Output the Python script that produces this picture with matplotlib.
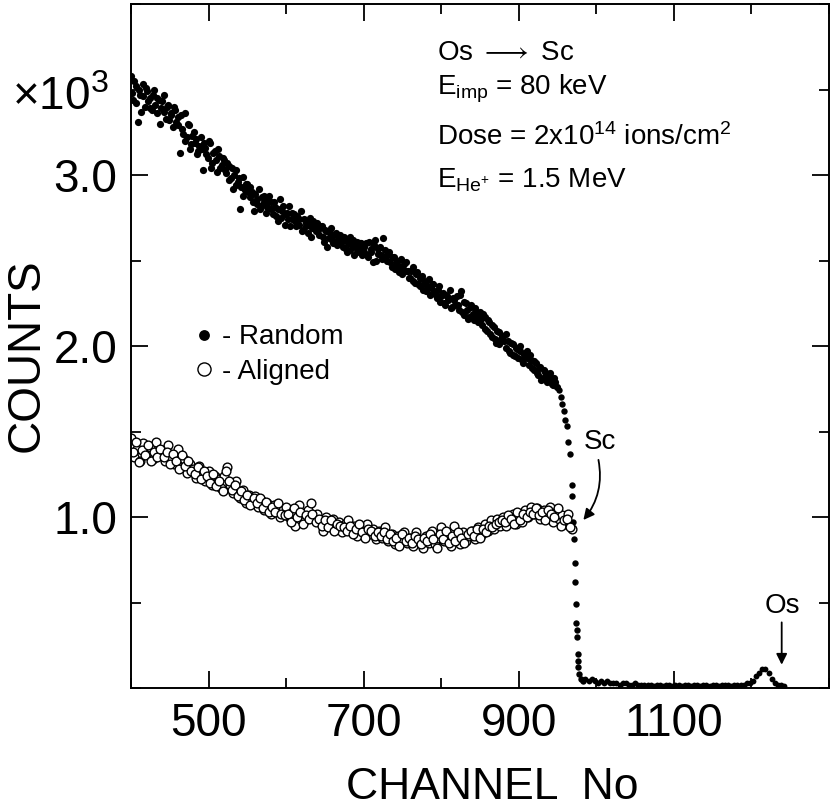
import numpy as np
import matplotlib
matplotlib.use("Agg")
import matplotlib.pyplot as plt
from matplotlib import font_manager
from matplotlib.ticker import MultipleLocator, FormatStrFormatter

# font: condensed sans if there is one
names = {f.name for f in font_manager.fontManager.ttflist}
if "Liberation Sans Narrow" in names:
    FONT = ["Liberation Sans Narrow", "DejaVu Sans"]
    big = 38
else:
    FONT = ["Liberation Sans", "DejaVu Sans"]
    big = 33
plt.rcParams["font.family"] = FONT
plt.rcParams["mathtext.fontset"] = "custom"
plt.rcParams["mathtext.rm"] = FONT[0]
plt.rcParams["mathtext.it"] = FONT[0]

# ---- data (counts x 10^3) ----
# random spectrum, two interleaved sets of channels
random_ch_a = np.arange(400, 950, 3)
random_counts_a = [
    3.58, 3.44, 3.52, 3.31, 3.47, 3.53, 3.40, 3.49, 3.45, 3.38,
    3.50, 3.36, 3.44, 3.39, 3.47, 3.33, 3.41, 3.35, 3.28, 3.38,
    3.34, 3.13, 3.27, 3.36, 3.22, 3.29, 3.18, 3.25, 3.21, 3.14,
    3.22, 3.03, 3.16, 3.10, 3.19, 3.07, 3.14, 3.02, 3.11, 3.06,
    3.09, 3.01, 3.05, 2.98, 2.92, 3.03, 2.96, 2.80, 2.99, 2.91,
    2.95, 2.87, 2.90, 2.79, 2.86, 2.92, 2.82, 2.88, 2.78, 2.85,
    2.84, 2.77, 2.81, 2.73, 2.86, 2.79, 2.71, 2.78, 2.82, 2.74,
    2.77, 2.70, 2.74, 2.79, 2.68, 2.72, 2.66, 2.75, 2.69, 2.71,
    2.72, 2.65, 2.70, 2.61, 2.67, 2.63, 2.69, 2.60, 2.66, 2.62,
    2.65, 2.58, 2.62, 2.55, 2.64, 2.59, 2.53, 2.61, 2.57, 2.60,
    2.55, 2.60, 2.52, 2.57, 2.49, 2.62, 2.54, 2.58, 2.51, 2.56,
    2.50, 2.55, 2.46, 2.52, 2.48, 2.43, 2.51, 2.45, 2.49, 2.44,
    2.40, 2.46, 2.37, 2.43, 2.35, 2.41, 2.38, 2.32, 2.39, 2.34,
    2.36, 2.30, 2.33, 2.26, 2.31, 2.24, 2.29, 2.33, 2.23, 2.27,
    2.29, 2.21, 2.32, 2.18, 2.25, 2.16, 2.23, 2.19, 2.22, 2.14,
    2.20, 2.12, 2.17, 2.09, 2.14, 2.05, 2.11, 2.02, 2.08, 2.04,
    2.06, 1.99, 2.03, 1.96, 2.01, 1.94, 1.98, 2.00, 1.92, 1.95,
    1.97, 1.89, 1.92, 1.86, 1.90, 1.83, 1.88, 1.81, 1.85, 1.79,
    1.84, 1.78, 1.81, 1.76,
]
random_ch_b = np.arange(401, 950, 3)
random_counts_b = [
    3.48, 3.55, 3.42, 3.50, 3.37, 3.46, 3.51, 3.43, 3.39, 3.47,
    3.41, 3.45, 3.30, 3.43, 3.37, 3.40, 3.32, 3.36, 3.40, 3.31,
    3.29, 3.35, 3.24, 3.20, 3.30, 3.15, 3.23, 3.19, 3.12, 3.17,
    3.15, 3.19, 3.12, 3.20, 3.04, 3.13, 3.09, 3.15, 3.04, 3.10,
    3.03, 3.07, 2.97, 3.04, 3.00, 2.94, 2.98, 2.93, 2.88, 2.95,
    2.90, 2.93, 2.84, 2.89, 2.83, 2.80, 2.87, 2.84, 2.81, 2.88,
    2.80, 2.84, 2.76, 2.80, 2.75, 2.82, 2.77, 2.74, 2.70, 2.78,
    2.73, 2.76, 2.71, 2.67, 2.74, 2.70, 2.72, 2.64, 2.73, 2.67,
    2.68, 2.70, 2.64, 2.68, 2.58, 2.66, 2.62, 2.65, 2.59, 2.64,
    2.61, 2.64, 2.57, 2.60, 2.56, 2.62, 2.58, 2.55, 2.60, 2.53,
    2.58, 2.53, 2.61, 2.55, 2.59, 2.50, 2.57, 2.53, 2.63, 2.52,
    2.54, 2.49, 2.52, 2.45, 2.50, 2.47, 2.42, 2.48, 2.44, 2.40,
    2.44, 2.38, 2.42, 2.36, 2.40, 2.33, 2.37, 2.35, 2.30, 2.36,
    2.32, 2.28, 2.35, 2.29, 2.25, 2.30, 2.27, 2.22, 2.28, 2.24,
    2.24, 2.30, 2.20, 2.26, 2.21, 2.17, 2.24, 2.15, 2.20, 2.17,
    2.16, 2.19, 2.10, 2.15, 2.07, 2.12, 2.04, 2.09, 2.01, 2.06,
    2.03, 2.07, 1.97, 2.02, 1.95, 1.99, 1.93, 1.97, 1.90, 1.96,
    1.93, 1.95, 1.87, 1.91, 1.84, 1.87, 1.80, 1.86, 1.82, 1.80,
    1.81, 1.77, 1.79,
]

# Sc surface edge
edge_ch = [952, 954, 956, 958, 960, 962, 964, 966, 968, 969, 970, 971,
           972, 973, 974, 974, 975, 975, 976, 976, 977, 978, 980, 983]
edge_counts = [1.74, 1.70, 1.66, 1.62, 1.57, 1.53, 1.44, 1.37, 1.19, 1.12, 0.97, 0.87,
               0.73, 0.62, 0.49, 0.38, 0.34, 0.30, 0.20, 0.16, 0.12, 0.08, 0.05, 0.04]

# background + Os peak, every 4th channel from 986 to 1242
tail_ch = np.arange(986, 1243, 4)
tail_counts = [
    0.05, 0.04, 0.05, 0.04, 0.03, 0.04, 0.03, 0.04, 0.03, 0.03,
    0.03, 0.02, 0.03, 0.03, 0.02, 0.02, 0.03, 0.02, 0.02, 0.02,
    0.02, 0.02, 0.01, 0.02, 0.02, 0.01, 0.02, 0.02, 0.01, 0.02,
    0.02, 0.01, 0.02, 0.02, 0.01, 0.02, 0.02, 0.01, 0.02, 0.02,
    0.01, 0.02, 0.02, 0.01, 0.02, 0.02, 0.02, 0.01, 0.02, 0.02,
    0.02, 0.02, 0.03,
    0.03, 0.04, 0.07, 0.09, 0.11, 0.11, 0.09, 0.05, 0.03, 0.02, 0.02, 0.01,
]

# aligned spectrum, two interleaved sets
aligned_ch_a = np.arange(400, 969, 4)
aligned_counts_a = [
    1.46, 1.35, 1.40, 1.33, 1.43, 1.37, 1.41, 1.34, 1.44, 1.36,
    1.39, 1.33, 1.42, 1.35, 1.31, 1.40, 1.29, 1.34, 1.26, 1.31,
    1.28, 1.23, 1.30, 1.25, 1.21, 1.27, 1.19, 1.24, 1.22, 1.17,
    1.24, 1.29, 1.19, 1.14, 1.21, 1.11, 1.16, 1.08, 1.13, 1.10,
    1.12, 1.06, 1.10, 1.04, 1.08, 1.02, 1.07, 1.05, 1.00, 1.04,
    1.06, 1.00, 1.03, 0.95, 1.07, 1.01, 0.98, 1.04, 1.08, 0.99,
    1.02, 0.97, 0.92, 1.00, 0.95, 0.99, 0.93, 0.97, 0.91, 0.96,
    0.98, 0.92, 0.95, 0.89, 0.94, 0.91, 0.96, 0.90, 0.93, 0.87,
    0.92, 0.88, 0.94, 0.86, 0.90, 0.84, 0.89, 0.87, 0.91, 0.85,
    0.88, 0.83, 0.91, 0.86, 0.82, 0.89, 0.85, 0.92, 0.84, 0.88,
    0.94, 0.86, 0.90, 0.83, 0.95, 0.88, 0.84, 0.91, 0.86, 0.89,
    0.92, 0.87, 0.94, 0.90, 0.96, 0.92, 0.98, 0.93, 0.99, 0.95,
    1.00, 0.95, 0.98, 1.02, 0.96, 1.01, 0.97, 1.04, 1.00, 1.06,
    1.02, 1.05, 0.99, 1.04, 1.00, 1.06, 0.97, 1.03, 0.99, 1.01,
    0.96, 1.02, 0.93,
]
aligned_ch_b = np.arange(402, 967, 4)
aligned_counts_b = [
    1.38, 1.44, 1.32, 1.39, 1.36, 1.42, 1.33, 1.38, 1.35, 1.40,
    1.35, 1.38, 1.31, 1.37, 1.33, 1.28, 1.36, 1.30, 1.33, 1.27,
    1.25, 1.29, 1.22, 1.27, 1.24, 1.20, 1.25, 1.18, 1.21, 1.15,
    1.27, 1.21, 1.16, 1.19, 1.12, 1.15, 1.10, 1.13, 1.07, 1.11,
    1.08, 1.11, 1.05, 1.09, 1.03, 1.06, 1.03, 1.08, 1.02, 1.01,
    1.02, 0.97, 1.05, 1.00, 1.03, 0.96, 1.01, 0.99, 1.02, 0.97,
    0.99, 0.95, 0.98, 0.94, 0.98, 0.92, 0.96, 0.95, 0.94, 0.92,
    0.95, 0.90, 0.93, 0.96, 0.91, 0.88, 0.93, 0.92, 0.89, 0.91,
    0.89, 0.91, 0.87, 0.90, 0.86, 0.88, 0.83, 0.90, 0.86, 0.88,
    0.85, 0.89, 0.87, 0.84, 0.88, 0.86, 0.90, 0.87, 0.82, 0.90,
    0.87, 0.92, 0.85, 0.89, 0.86, 0.91, 0.88, 0.85, 0.90, 0.92,
    0.89, 0.93, 0.88, 0.93, 0.91, 0.95, 0.94, 0.96, 0.97, 0.98,
    0.97, 1.01, 0.99, 0.96, 1.03, 0.98, 1.02, 1.00, 1.03, 1.02,
    1.05, 1.01, 1.03, 0.98, 1.04, 1.02, 1.00, 1.05, 0.95, 0.98,
    0.99, 0.94,
]

info_lines = [
    r"Os $\longrightarrow$ Sc",
    r"E$_{\mathrm{imp}}$ = 80 keV",
    r"Dose = 2x10$^{14}$ ions/cm$^{2}$",
    r"E$_{\mathrm{He^{+}}}$ = 1.5 MeV",
]

fig = plt.figure(figsize=(8.33, 8.08), dpi=100)
ax = fig.add_axes([131 / 833, 120 / 808, 698 / 833, 684 / 808])

ax.plot(random_ch_a, random_counts_a, "o", color="black", ms=5.2, mew=0, label="- Random")
ax.plot(random_ch_b, random_counts_b, "o", color="black", ms=5.2, mew=0)
ax.plot(edge_ch, edge_counts, "o", color="black", ms=4.6, mew=0)
ax.plot(tail_ch, tail_counts, "o", color="black", ms=4.2, mew=0)
ax.plot(aligned_ch_a, aligned_counts_a, "o", mfc="white", mec="black", ms=6.3, mew=1.0,
        label="- Aligned")
ax.plot(aligned_ch_b, aligned_counts_b, "o", mfc="white", mec="black", ms=6.3, mew=1.0)

ax.set_xlim(400, 1300)
ax.set_ylim(0, 4.0)
ax.xaxis.set_minor_locator(MultipleLocator(100))
ax.set_xticks([500, 700, 900, 1100])
ax.yaxis.set_minor_locator(MultipleLocator(0.5))
ax.set_yticks([1.0, 2.0, 3.0])
ax.yaxis.set_major_formatter(FormatStrFormatter("%.1f"))
ax.tick_params(which="both", direction="in", top=True, right=True, width=1.3,
               labelsize=big, pad=10)
ax.tick_params(which="major", length=12)
ax.tick_params(which="minor", length=7)
for s in ax.spines.values():
    s.set_linewidth(1.4)

fig.text(12 / 833, 1 - 110 / 808, r"×10$^{3}$", fontsize=big, ha="left", va="baseline")
fig.text(27 / 833, 1 - 355 / 808, "COUNTS", fontsize=big, rotation=90,
         ha="center", va="center")
fig.text(492 / 833, 1 - 799 / 808, "CHANNEL  No", fontsize=big - 1,
         ha="center", va="baseline")

# parameters box
tx = 0.438
for line, yb in zip(info_lines, [0.918, 0.867, 0.794, 0.732]):
    ax.text(tx, yb, line, transform=ax.transAxes, fontsize=20, va="baseline")

leg = ax.legend(loc="upper left", bbox_to_anchor=(0.073, 0.552), frameon=False,
                fontsize=20, handlelength=0.6, handletextpad=0.35, labelspacing=0.3,
                markerscale=1.5, borderpad=0)

# edge labels
ax.annotate("", xy=(981, 0.97), xytext=(1002, 1.35),
            arrowprops=dict(arrowstyle="-|>", color="black", lw=1.3,
                            mutation_scale=16, connectionstyle="arc3,rad=-0.25"))
ax.text(984, 1.40, "Sc", fontsize=20, va="baseline")
ax.annotate("", xy=(1239, 0.12), xytext=(1239, 0.40),
            arrowprops=dict(arrowstyle="-|>", color="black", lw=1.3, mutation_scale=16))
ax.text(1217, 0.44, "Os", fontsize=20, va="baseline")

fig.savefig("out.png", dpi=100, facecolor="white")
